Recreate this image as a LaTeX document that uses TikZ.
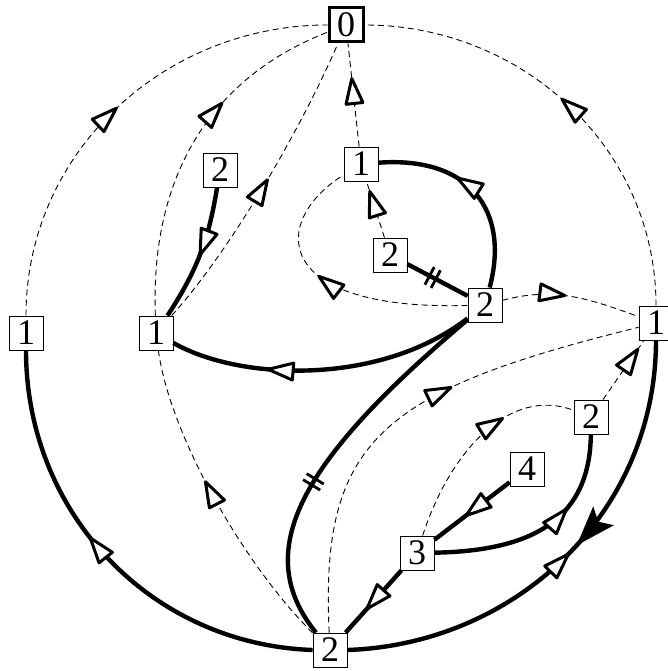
\documentclass[tikz,border=0pt]{standalone}
\usepackage{fontspec}
\setmainfont{Liberation Serif}
\usepackage{tikz}
\usetikzlibrary{decorations.markings}
\definecolor{inkBlack}{HTML}{000000}
\definecolor{paperWhite}{HTML}{FFFFFF}
\newcommand{\openHead}{\draw[inkBlack, solid, line width=3pt, line join=round, fill=paperWhite]
  (0pt,0pt) -- (-25pt,8.5pt) -- (-25pt,-8.5pt) -- cycle;}
\newcommand{\blackHead}{\fill[inkBlack] (0pt,0pt) -- (40pt,14pt) -- (32pt,0pt) -- (40pt,-14pt) -- cycle;}
\tikzset{
  stateBox/.style={draw=inkBlack, line width=0.8pt, fill=paperWhite, minimum width=34pt,
    minimum height=34pt, inner sep=0pt, font=\fontsize{36}{36}\selectfont},
  rootBox/.style={stateBox, line width=3pt},
  thickFlow/.style={draw=inkBlack, line width=4.4pt},
  dashFlow/.style={draw=inkBlack, line width=0.9pt, dash pattern=on 6pt off 4pt},
  midArrow/.style={postaction={decorate, decoration={markings,
    mark=at position #1 with {\openHead}}}},
  backTip/.style={postaction={decorate, decoration={markings,
    mark=at position #1 with {\blackHead}}}},
  tickMark/.style={postaction={decorate, decoration={markings,
    mark=at position #1 with {\draw[line width=2.8pt] (-3.5pt,-10pt) -- (-3.5pt,10pt) (3.5pt,-10pt) -- (3.5pt,10pt);}}}},
}

\begin{document}
\begin{tikzpicture}[x=1pt, y=1pt]
  \useasboundingbox (0,0) rectangle (667,671);

  % states
  \node[rootBox]  (n0) at (346,646) {0};
  \node[stateBox] (a1) at (26,338)  {1};
  \node[stateBox] (b1) at (156,338) {1};
  \node[stateBox] (b2) at (220,501) {2};
  \node[stateBox] (c1) at (361,507) {1};
  \node[stateBox] (c2) at (390,416) {2};
  \node[stateBox] (d2) at (485,366) {2};
  \node[stateBox] (e1) at (656,348) {1};
  \node[stateBox] (f2) at (591,254) {2};
  \node[stateBox] (f4) at (527,202) {4};
  \node[stateBox] (f3) at (417,118) {3};
  \node[stateBox] (g2) at (330,21)  {2};

  % dashed links
  \draw[dashFlow, midArrow=0.5] (a1.north) to[out=90, in=180] (n0.west);
  \draw[dashFlow, midArrow=0.52] (e1.north) to[out=90, in=0] (n0.east);
  \draw[dashFlow, midArrow=0.64] (b1) .. controls (150,500) and (215,595) .. (n0);
  \draw[dashFlow, midArrow=0.52] (b1) .. controls (230,420) and (300,540) .. (n0);
  \draw[dashFlow, midArrow=0.66] (c1) -- (n0);
  \draw[dashFlow, midArrow=0.82] (c2) -- (c1);
  \draw[dashFlow, midArrow=0.55] (d2) .. controls (270,360) and (270,450) .. (c1);
  \draw[dashFlow, midArrow=0.45] (d2) to[out=15, in=160] (e1);
  \draw[dashFlow, midArrow=0.57] (g2) .. controls (245,105) and (170,235) .. (b1);
  \draw[dashFlow, midArrow=0.6] (g2) .. controls (320,230) and (380,280) .. (e1);
  \draw[dashFlow, midArrow=0.66] (f3) .. controls (450,220) and (510,285) .. (f2);
  \draw[dashFlow, midArrow=0.85] (f2) -- (e1);

  % thick flows
  \draw[thickFlow, midArrow=0.56] (g2.west) to[out=178, in=-90] (a1.south);
  \draw[thickFlow, midArrow=0.51, backTip=0.535] (g2.east) to[out=2, in=-90] (e1.south);
  \draw[thickFlow, midArrow=0.68] (d2) .. controls (380,285) and (240,290) .. (b1);
  \draw[thickFlow, midArrow=0.5] (b2) to[bend left=12] (b1);
  \draw[thickFlow, midArrow=0.6] (d2) .. controls (510,460) and (470,515) .. (c1);
  \draw[thickFlow, tickMark=0.42] (c2) -- (d2);
  \draw[thickFlow, tickMark=0.58] (d2) .. controls (300,210) and (250,120) .. (g2);
  \draw[thickFlow, midArrow=0.58] (f4) -- (f3);
  \draw[thickFlow, midArrow=0.64] (f3) .. controls (530,120) and (590,150) .. (f2);
  \draw[thickFlow, midArrow=0.62] (f3) -- (g2);
\end{tikzpicture}
\end{document}
